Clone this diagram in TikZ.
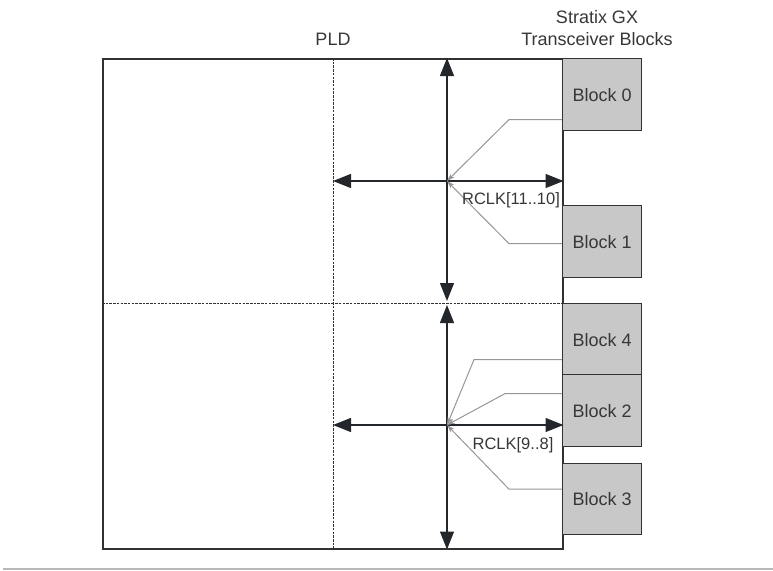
\documentclass[tikz,border=0pt]{standalone}
\usepackage{fontspec}
\setmainfont{Liberation Sans}
\usepackage{tikz}
\usetikzlibrary{positioning,arrows.meta,calc}
\definecolor{LineDark}{RGB}{50,50,50}
\definecolor{TipDark}{RGB}{35,39,43}
\definecolor{BlockFill}{RGB}{200,200,200}
\definecolor{FeedGray}{RGB}{150,150,150}
\definecolor{RuleGray}{RGB}{185,185,185}
\definecolor{LabelText}{RGB}{55,55,55}

\begin{document}
\begin{tikzpicture}[
    x=1pt, y=-1pt,
    region/.style={rectangle, draw=LineDark, line width=1.5pt, minimum width=460pt,
        minimum height=490pt, inner sep=0pt, anchor=north west},
    block/.style={rectangle, draw=LineDark, fill=BlockFill, line width=1.2pt,
        minimum width=79pt, minimum height=72pt, inner sep=0pt, anchor=north west,
        font=\fontsize{18}{21}\selectfont, text=LabelText},
    clock/.style={draw=TipDark, line width=1.3pt,
        {Triangle[length=18pt,width=14pt]}-{Triangle[length=18pt,width=14pt]}},
    feed/.style={draw=FeedGray, line width=1pt, -{Stealth[length=8pt,width=5pt]}},
    divider/.style={draw=LineDark, line width=1pt, dash pattern=on 2.5pt off 1.2pt},
    caption/.style={font=\fontsize{18}{22.5}\selectfont, text=LabelText, align=center},
    bus/.style={font=\fontsize{16.5}{19}\selectfont, text=LabelText, inner sep=0pt},
]
\useasboundingbox (0,0) rectangle (773,570);

% device area and the transceiver blocks
\node[region] (pld) at (102,58) {};
\coordinate (split) at (333,303);
\draw[divider] (split |- pld.north) -- (split |- pld.south);
\draw[divider] (split -| pld.west) -- (split -| pld.east);

\node[block] (b0) at (562,58) {Block 0};
\node[block] (b1) at (562,205) {Block 1};
\node[block] (b4) at (562,303) {Block 4};
\node[block] (b2) at (562,374) {Block 2};
\node[block, minimum height=71pt] (b3) at (562,463) {Block 3};

% regional clock spines
\coordinate (hubA) at (447,181);
\coordinate (hubB) at (447,425);
\draw[clock, shorten >=2pt] (hubA |- pld.north) -- (hubA |- split);
\draw[clock, shorten <=2pt] (hubB |- split) -- (hubB |- pld.south);
\draw[clock] (hubA -| split) -- (hubA -| pld.east);
\draw[clock] (hubB -| split) -- (hubB -| pld.east);

% recovered clocks feeding the spines
\draw[feed] ([yshift=-25pt]b0.west) -- ++(-53,0) -- (hubA);
\draw[feed] ([yshift=-2pt]b1.west) -- ++(-53,0) -- (hubA);
\draw[feed] ([yshift=-20pt]b4.west) -- ++(-88,0) -- (hubB);
\draw[feed] ([yshift=17pt]b2.west) -- ++(-57,0) -- (hubB);
\draw[feed] ([yshift=10pt]b3.west) -- ++(-53,0) -- (hubB);

\node[bus] (rclkA) at (511,200) {RCLK[11..10]};
\node[bus] (rclkB) at (513,445) {RCLK[9..8]};

% titles
\node[caption] (pldname) at (333,39) {PLD};
\node[caption] (gxname) at (597,28) {Stratix GX\\Transceiver Blocks};

\draw[RuleGray, line width=1.5pt] (3,569) -- (773,569);
\end{tikzpicture}
\end{document}
